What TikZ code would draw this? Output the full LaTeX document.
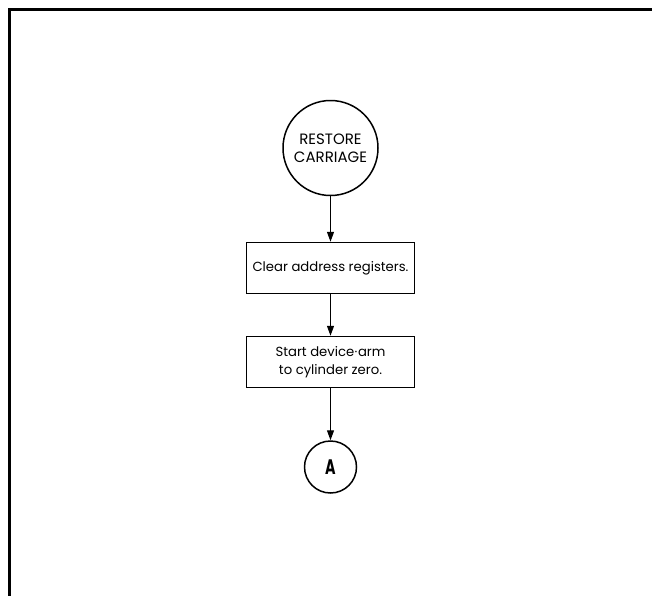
\documentclass[tikz,border=0pt]{standalone}
\usepackage{fontspec}
\setmainfont{Poppins}
\usetikzlibrary{arrows.meta}
\begin{document}
\begin{tikzpicture}[x=1pt,y=-1pt,
  flow/.style={line width=1.2pt,-{Triangle[length=10pt,width=7pt]}},
  terminal/.style={circle,draw,line width=1.5pt,minimum size=#1,inner sep=0pt,align=center},
  procbox/.style={draw,line width=1.5pt,minimum width=168pt,minimum height=51pt,align=center,font=\fontsize{13.2}{18}\selectfont}]
\useasboundingbox (0,0) rectangle (652,595);
\clip (0,0) rectangle (652,595);
% sheet border
\draw[line width=3pt] (9,620) -- (9,9) -- (670,9);
% chart
\node[terminal=95pt,font=\fontsize{15}{18}\selectfont] (start) at (330.5,148) {RESTORE\\CARRIAGE};
\node[procbox] (clear) at (330.5,268) {Clear address registers.};
\node[procbox] (arm) at (330.5,362) {Start device\kern0.5pt·\kern0.5pt arm\\to cylinder zero.};
\node[terminal=52pt,font=\fontsize{21}{21}\selectfont\bfseries] (conn) at (330.5,467) {\scalebox{0.68}[1]{A}};
\draw[flow] (start) -- (clear);
\draw[flow] (clear) -- (arm);
\draw[flow] (arm) -- (conn);
\end{tikzpicture}
\end{document}
